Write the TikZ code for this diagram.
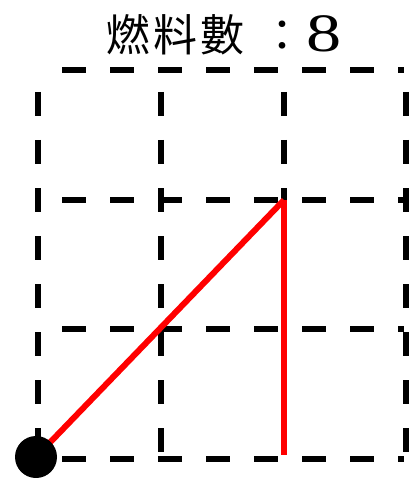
\documentclass[tikz,border=0pt]{standalone}
\usepackage{fontspec}
\newfontfamily\cjk{Noto Sans CJK TC}
\newfontfamily\digitfont[FakeStretch=1.3]{Liberation Serif}
\begin{document}
\begin{tikzpicture}[x=1pt,y=-1pt,
  gridline/.style={draw=black,line width=6pt,dash pattern=on 24pt off 24pt},
  pathline/.style={draw=red,line width=6pt},
  title/.style={font=\cjk\fontsize{44}{48}\selectfont,inner sep=0pt,anchor=base west}]
\useasboundingbox (0,0) rectangle (409,478);
% horizontal grid lines
\foreach \y/\n in {70/h0,200/h1,329/h2,459/h3} {
  \coordinate (\n a) at (62,\y);
  \coordinate (\n b) at (404,\y);
  \draw[gridline] (\n a) -- (\n b);
}
% vertical grid lines
\foreach \x/\n in {38/v0,161/v1,284/v2,406/v3} {
  \coordinate (\n a) at (\x,92);
  \coordinate (\n b) at (\x,460);
  \draw[gridline] (\n a) -- (\n b);
}
\coordinate (start) at (36,457);
\coordinate (corner) at (284,200);
\coordinate (end) at (284,455);
\draw[pathline] (start) -- (corner);
\draw[pathline] (corner) -- (end);
\node[circle,fill=black,minimum size=42pt,inner sep=0pt] (dot) at (start) {};
\node[title] (ttl) at (106,52) {燃\hspace{3pt}料\hspace{3pt}數\hspace{16pt}：\hspace{2pt}{\digitfont\fontsize{54}{56}\selectfont 8}};
\end{tikzpicture}
\end{document}
